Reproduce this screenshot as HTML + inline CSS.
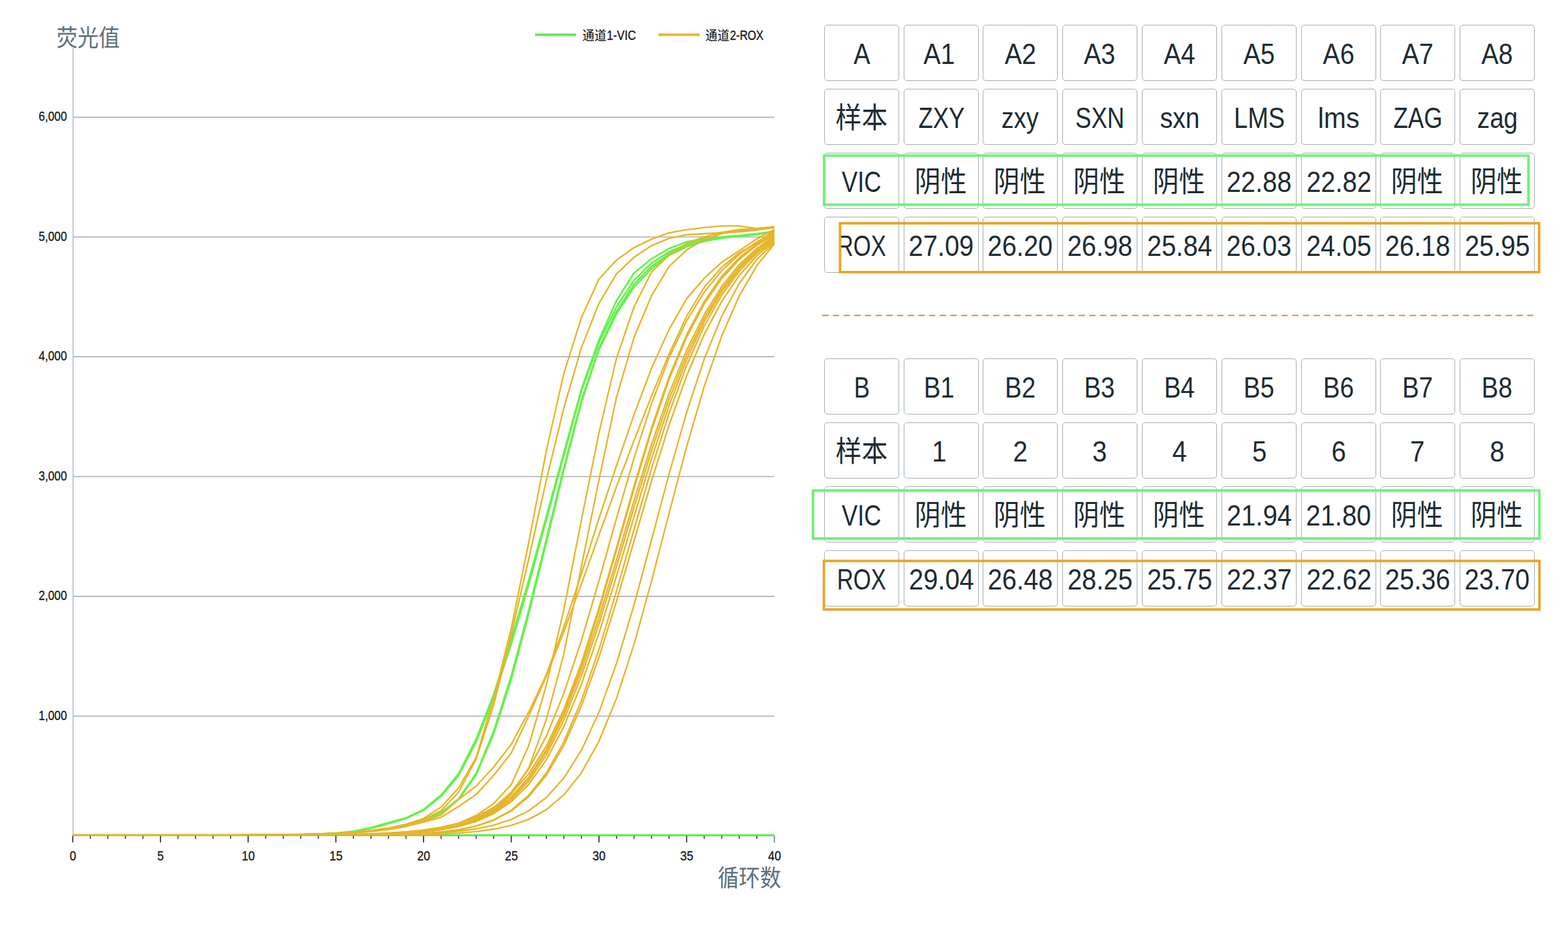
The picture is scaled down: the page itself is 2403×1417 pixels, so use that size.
<!DOCTYPE html>
<html lang="zh"><head><meta charset="utf-8"><title>PCR amplification curves</title>
<style>
html,body{margin:0;padding:0;background:#fff}
body{width:2403px;height:1417px;position:relative;overflow:hidden;font-family:"Liberation Sans",sans-serif}
.c{position:absolute;box-sizing:border-box;width:115px;height:86px;border:1px solid #a3adb3;border-radius:5px;background:#fff;
display:flex;align-items:center;justify-content:center;color:#1d2b32;font-size:44.64px;line-height:1;white-space:nowrap}
.t{display:inline-block;position:relative;top:2.4px}
.bx{position:absolute;box-sizing:content-box}
</style></head>
<body>
<svg id="chart" width="1250" height="1417" viewBox="0 0 1250 1417" style="position:absolute;left:0;top:0" font-family="'Liberation Sans', sans-serif"><line x1="112" y1="73" x2="112" y2="1281" stroke="#8c979c" stroke-width="1"/><line x1="112" y1="1280.5" x2="1186.7" y2="1280.5" stroke="#6b7478" stroke-width="1"/><line x1="112.5" y1="1097.00" x2="1186.7" y2="1097.00" stroke="#7d878a" stroke-width="1"/><text transform="translate(102.60,1102.60) scale(0.8679,1)" font-size="19.95" text-anchor="end" fill="#1a1a1a" stroke="#1a1a1a" stroke-width="0.35">1,000</text><line x1="112.5" y1="913.50" x2="1186.7" y2="913.50" stroke="#7d878a" stroke-width="1"/><text transform="translate(102.60,919.10) scale(0.8679,1)" font-size="19.95" text-anchor="end" fill="#1a1a1a" stroke="#1a1a1a" stroke-width="0.35">2,000</text><line x1="112.5" y1="730.00" x2="1186.7" y2="730.00" stroke="#7d878a" stroke-width="1"/><text transform="translate(102.60,735.60) scale(0.8679,1)" font-size="19.95" text-anchor="end" fill="#1a1a1a" stroke="#1a1a1a" stroke-width="0.35">3,000</text><line x1="112.5" y1="546.50" x2="1186.7" y2="546.50" stroke="#7d878a" stroke-width="1"/><text transform="translate(102.60,552.10) scale(0.8679,1)" font-size="19.95" text-anchor="end" fill="#1a1a1a" stroke="#1a1a1a" stroke-width="0.35">4,000</text><line x1="112.5" y1="363.00" x2="1186.7" y2="363.00" stroke="#7d878a" stroke-width="1"/><text transform="translate(102.60,368.60) scale(0.8679,1)" font-size="19.95" text-anchor="end" fill="#1a1a1a" stroke="#1a1a1a" stroke-width="0.35">5,000</text><line x1="112.5" y1="179.50" x2="1186.7" y2="179.50" stroke="#7d878a" stroke-width="1"/><text transform="translate(102.60,185.10) scale(0.8679,1)" font-size="19.95" text-anchor="end" fill="#1a1a1a" stroke="#1a1a1a" stroke-width="0.35">6,000</text><g fill="none" stroke-linejoin="round" stroke-linecap="butt"><polyline points="111.5,1279.5 138.4,1279.5 165.3,1279.5 192.1,1279.5 219.0,1279.5 245.9,1279.5 272.8,1279.4 299.7,1279.4 326.5,1279.4 353.4,1279.3 380.3,1279.2 407.2,1279.0 434.1,1278.8 460.9,1278.4 487.8,1277.8 514.7,1276.4 541.6,1273.4 568.5,1267.8 595.3,1260.2 622.2,1252.9 649.1,1240.1 676.0,1218.1 702.9,1185.0 729.7,1132.3 756.6,1063.9 783.5,979.3 810.4,888.4 837.3,790.8 864.1,693.7 891.0,596.3 917.9,520.8 944.8,460.4 971.7,418.3 998.5,396.3 1025.4,380.7 1052.3,370.5 1079.2,365.5 1106.1,362.8 1132.9,360.9 1159.8,358.0 1186.7,354.5" stroke="#68f04e" stroke-width="2.7"/><polyline points="111.5,1279.5 138.4,1279.5 165.3,1279.5 192.1,1279.5 219.0,1279.5 245.9,1279.5 272.8,1279.4 299.7,1279.4 326.5,1279.4 353.4,1279.3 380.3,1279.2 407.2,1279.1 434.1,1278.9 460.9,1278.5 487.8,1278.0 514.7,1276.7 541.6,1274.0 568.5,1268.9 595.3,1261.9 622.2,1253.8 649.1,1241.3 676.0,1219.9 702.9,1187.8 729.7,1136.5 756.6,1069.8 783.5,986.3 810.4,895.2 837.3,796.2 864.1,697.8 891.0,599.1 917.9,524.9 944.8,470.0 971.7,429.3 998.5,403.1 1025.4,385.9 1052.3,374.1 1079.2,367.5 1106.1,363.7 1132.9,361.3 1159.8,358.4 1186.7,354.5" stroke="#68f04e" stroke-width="2.7"/><polyline points="111.5,1279.5 138.4,1279.5 165.3,1279.5 192.1,1279.5 219.0,1279.5 245.9,1279.5 272.8,1279.4 299.7,1279.4 326.5,1279.3 353.4,1279.3 380.3,1279.1 407.2,1279.0 434.1,1278.7 460.9,1278.2 487.8,1277.6 514.7,1276.6 541.6,1275.1 568.5,1272.8 595.3,1269.3 622.2,1263.9 649.1,1256.6 676.0,1244.7 702.9,1223.6 729.7,1185.0 756.6,1120.3 783.5,1035.5 810.4,934.3 837.3,825.6 864.1,716.4 891.0,613.2 917.9,533.3 944.8,476.9 971.7,435.2 998.5,407.9 1025.4,388.8 1052.3,376.2 1079.2,368.5 1106.1,364.2 1132.9,361.5 1159.8,358.7 1186.7,355.1" stroke="#68f04e" stroke-width="2.7"/><polyline points="111.5,1279.5 138.4,1279.5 165.3,1279.5 192.1,1279.5 219.0,1279.5 245.9,1279.5 272.8,1279.4 299.7,1279.4 326.5,1279.4 353.4,1279.3 380.3,1279.2 407.2,1279.0 434.1,1278.7 460.9,1278.3 487.8,1277.7 514.7,1276.7 541.6,1275.2 568.5,1273.0 595.3,1269.6 622.2,1264.5 649.1,1257.5 676.0,1245.6 702.9,1224.8 729.7,1186.9 756.6,1123.9 783.5,1040.8 810.4,939.8 837.3,830.8 864.1,720.3 891.0,616.4 917.9,535.8 944.8,480.8 971.7,439.8 998.5,411.6 1025.4,391.0 1052.3,378.0 1079.2,369.6 1106.1,364.6 1132.9,361.8 1159.8,359.1 1186.7,355.1" stroke="#68f04e" stroke-width="2.7"/><polyline points="111.5,1279.5 138.4,1279.5 165.3,1279.5 192.1,1279.5 219.0,1279.5 245.9,1279.5 272.8,1279.5 299.7,1279.5 326.5,1279.5 353.4,1279.5 380.3,1279.5 407.2,1279.5 434.1,1279.5 460.9,1279.5 487.8,1279.4 514.7,1279.4 541.6,1279.3 568.5,1279.2 595.3,1279.0 622.2,1278.7 649.1,1278.2 676.0,1277.4 702.9,1276.1 729.7,1273.9 756.6,1270.3 783.5,1264.4 810.4,1255.1 837.3,1240.4 864.1,1217.7 891.0,1183.9 917.9,1135.5 944.8,1069.9 971.7,987.0 998.5,890.1 1025.4,786.2 1052.3,684.3 1079.2,592.1 1106.1,514.6 1132.9,453.3 1159.8,407.1 1186.7,373.4" stroke="#e6b52c" stroke-width="2.4"/><polyline points="111.5,1279.5 138.4,1279.5 165.3,1279.5 192.1,1279.5 219.0,1279.5 245.9,1279.5 272.8,1279.5 299.7,1279.5 326.5,1279.5 353.4,1279.5 380.3,1279.5 407.2,1279.5 434.1,1279.4 460.9,1279.4 487.8,1279.3 514.7,1279.3 541.6,1279.1 568.5,1278.9 595.3,1278.5 622.2,1278.0 649.1,1277.0 676.0,1275.6 702.9,1273.3 729.7,1269.7 756.6,1264.1 783.5,1255.4 810.4,1242.0 837.3,1221.8 864.1,1191.9 891.0,1149.4 917.9,1091.3 944.8,1016.4 971.7,926.6 998.5,827.1 1025.4,726.0 1052.3,631.6 1079.2,550.1 1106.1,484.4 1132.9,434.2 1159.8,397.5 1186.7,371.6" stroke="#e6b52c" stroke-width="2.4"/><polyline points="111.5,1279.5 138.4,1279.5 165.3,1279.5 192.1,1279.5 219.0,1279.5 245.9,1279.5 272.8,1279.5 299.7,1279.5 326.5,1279.5 353.4,1279.5 380.3,1279.5 407.2,1279.5 434.1,1279.5 460.9,1279.4 487.8,1279.4 514.7,1279.3 541.6,1279.2 568.5,1278.9 595.3,1278.5 622.2,1277.8 649.1,1276.7 676.0,1274.6 702.9,1271.3 729.7,1265.7 756.6,1256.6 783.5,1242.2 810.4,1220.2 837.3,1187.7 864.1,1142.0 891.0,1081.6 917.9,1006.9 944.8,920.8 971.7,828.6 998.5,736.8 1025.4,651.2 1052.3,575.8 1079.2,512.5 1106.1,461.6 1132.9,421.9 1159.8,391.9 1186.7,369.6" stroke="#e6b52c" stroke-width="2.4"/><polyline points="111.5,1279.5 138.4,1279.5 165.3,1279.5 192.1,1279.5 219.0,1279.5 245.9,1279.5 272.8,1279.5 299.7,1279.5 326.5,1279.5 353.4,1279.5 380.3,1279.5 407.2,1279.5 434.1,1279.5 460.9,1279.4 487.8,1279.4 514.7,1279.3 541.6,1279.2 568.5,1278.9 595.3,1278.5 622.2,1277.8 649.1,1276.6 676.0,1274.5 702.9,1271.1 729.7,1265.4 756.6,1256.0 783.5,1241.2 810.4,1218.2 837.3,1184.3 864.1,1136.5 891.0,1073.2 917.9,995.0 944.8,905.5 971.7,810.9 998.5,718.0 1025.4,632.9 1052.3,559.6 1079.2,499.5 1106.1,452.0 1132.9,415.5 1159.8,388.0 1186.7,367.5" stroke="#e6b52c" stroke-width="2.4"/><polyline points="111.5,1279.5 138.4,1279.5 165.3,1279.5 192.1,1279.5 219.0,1279.5 245.9,1279.5 272.8,1279.5 299.7,1279.5 326.5,1279.5 353.4,1279.5 380.3,1279.5 407.2,1279.4 434.1,1279.4 460.9,1279.3 487.8,1279.2 514.7,1279.0 541.6,1278.7 568.5,1278.3 595.3,1277.5 622.2,1276.3 649.1,1274.3 676.0,1271.1 702.9,1266.1 729.7,1258.3 756.6,1246.3 783.5,1228.1 810.4,1201.5 837.3,1163.9 864.1,1113.1 891.0,1048.2 917.9,970.2 944.8,882.7 971.7,791.3 998.5,702.3 1025.4,621.0 1052.3,550.8 1079.2,492.9 1106.1,447.0 1132.9,411.7 1159.8,385.1 1186.7,365.5" stroke="#e6b52c" stroke-width="2.4"/><polyline points="111.5,1279.5 138.4,1279.5 165.3,1279.5 192.1,1279.5 219.0,1279.5 245.9,1279.5 272.8,1279.5 299.7,1279.5 326.5,1279.5 353.4,1279.5 380.3,1279.5 407.2,1279.4 434.1,1279.4 460.9,1279.3 487.8,1279.2 514.7,1279.1 541.6,1278.8 568.5,1278.3 595.3,1277.6 622.2,1276.3 649.1,1274.3 676.0,1271.0 702.9,1265.8 729.7,1257.4 756.6,1244.6 783.5,1225.1 810.4,1196.6 837.3,1156.6 864.1,1103.1 891.0,1035.6 917.9,955.8 944.8,867.9 971.7,777.4 998.5,690.3 1025.4,611.4 1052.3,543.6 1079.2,487.7 1106.1,443.2 1132.9,408.9 1159.8,382.9 1186.7,363.5" stroke="#e6b52c" stroke-width="2.4"/><polyline points="111.5,1279.5 138.4,1279.5 165.3,1279.5 192.1,1279.5 219.0,1279.5 245.9,1279.5 272.8,1279.5 299.7,1279.5 326.5,1279.5 353.4,1279.5 380.3,1279.5 407.2,1279.4 434.1,1279.4 460.9,1279.3 487.8,1279.2 514.7,1279.1 541.6,1278.8 568.5,1278.3 595.3,1277.5 622.2,1276.2 649.1,1274.0 676.0,1270.6 702.9,1265.0 729.7,1256.3 756.6,1242.7 783.5,1222.4 810.4,1192.7 837.3,1151.2 864.1,1096.1 891.0,1027.1 917.9,946.1 944.8,857.5 971.7,767.1 998.5,680.7 1025.4,602.9 1052.3,536.4 1079.2,482.0 1106.1,438.8 1132.9,405.5 1159.8,380.4 1186.7,361.7" stroke="#e6b52c" stroke-width="2.4"/><polyline points="111.5,1279.5 138.4,1279.5 165.3,1279.5 192.1,1279.5 219.0,1279.5 245.9,1279.5 272.8,1279.5 299.7,1279.5 326.5,1279.5 353.4,1279.5 380.3,1279.4 407.2,1279.4 434.1,1279.4 460.9,1279.3 487.8,1279.1 514.7,1278.9 541.6,1278.5 568.5,1278.0 595.3,1277.0 622.2,1275.6 649.1,1273.2 676.0,1269.5 702.9,1263.8 729.7,1254.8 756.6,1241.1 783.5,1220.6 810.4,1190.7 837.3,1148.6 864.1,1092.1 891.0,1020.5 917.9,935.7 944.8,842.7 971.7,748.2 998.5,659.2 1025.4,581.1 1052.3,516.5 1079.2,465.5 1106.1,426.6 1132.9,397.4 1159.8,375.8 1186.7,359.6" stroke="#e6b52c" stroke-width="2.4"/><polyline points="111.5,1279.5 138.4,1279.5 165.3,1279.5 192.1,1279.5 219.0,1279.5 245.9,1279.5 272.8,1279.5 299.7,1279.5 326.5,1279.5 353.4,1279.4 380.3,1279.4 407.2,1279.3 434.1,1279.3 460.9,1279.1 487.8,1278.9 514.7,1278.6 541.6,1278.1 568.5,1277.4 595.3,1276.2 622.2,1274.4 649.1,1271.7 676.0,1267.5 702.9,1261.1 729.7,1251.4 756.6,1236.9 783.5,1215.7 810.4,1185.3 837.3,1143.0 864.1,1086.8 891.0,1015.7 917.9,931.6 944.8,839.0 971.7,744.6 998.5,655.5 1025.4,577.3 1052.3,512.7 1079.2,461.9 1106.1,423.4 1132.9,394.7 1159.8,373.5 1186.7,357.8" stroke="#e6b52c" stroke-width="2.4"/><polyline points="111.5,1279.5 138.4,1279.5 165.3,1279.5 192.1,1279.5 219.0,1279.5 245.9,1279.5 272.8,1279.5 299.7,1279.5 326.5,1279.5 353.4,1279.5 380.3,1279.5 407.2,1279.5 434.1,1279.4 460.9,1279.4 487.8,1279.3 514.7,1279.1 541.6,1278.8 568.5,1278.3 595.3,1277.5 622.2,1276.1 649.1,1273.8 676.0,1270.0 702.9,1263.7 729.7,1253.7 756.6,1237.8 783.5,1213.6 810.4,1177.9 837.3,1127.9 864.1,1062.1 891.0,981.4 917.9,889.8 944.8,794.1 971.7,701.5 998.5,618.3 1025.4,547.9 1052.3,491.3 1079.2,447.6 1106.1,414.5 1132.9,389.5 1159.8,370.5 1186.7,355.8" stroke="#e6b52c" stroke-width="2.4"/><polyline points="111.5,1279.5 138.4,1279.5 165.3,1279.5 192.1,1279.5 219.0,1279.5 245.9,1279.5 272.8,1279.4 299.7,1279.4 326.5,1279.4 353.4,1279.3 380.3,1279.2 407.2,1279.0 434.1,1278.8 460.9,1278.4 487.8,1277.9 514.7,1277.0 541.6,1275.7 568.5,1273.8 595.3,1270.8 622.2,1266.2 649.1,1259.3 676.0,1252.0 702.9,1235.5 729.7,1217.1 756.6,1187.8 783.5,1153.7 810.4,1096.6 837.3,1035.9 864.1,967.6 891.0,894.6 917.9,819.7 944.8,745.5 971.7,674.9 998.5,606.6 1025.4,542.3 1052.3,484.4 1079.2,440.4 1106.1,409.2 1132.9,387.3 1159.8,371.9 1186.7,353.2" stroke="#e6b52c" stroke-width="2.4"/><polyline points="111.5,1279.5 138.4,1279.5 165.3,1279.5 192.1,1279.5 219.0,1279.5 245.9,1279.5 272.8,1279.4 299.7,1279.4 326.5,1279.4 353.4,1279.3 380.3,1279.2 407.2,1279.0 434.1,1278.7 460.9,1278.3 487.8,1277.7 514.7,1276.8 541.6,1275.4 568.5,1273.3 595.3,1270.0 622.2,1265.0 649.1,1257.5 676.0,1248.3 702.9,1224.5 729.7,1204.3 756.6,1175.0 783.5,1140.3 810.4,1090.4 837.3,1033.5 864.1,960.7 891.0,879.1 917.9,794.3 944.8,713.3 971.7,635.2 998.5,564.1 1025.4,504.9 1052.3,457.6 1079.2,426.4 1106.1,401.7 1132.9,383.9 1159.8,366.1 1186.7,351.4" stroke="#e6b52c" stroke-width="2.4"/><polyline points="111.5,1279.5 138.4,1279.5 165.3,1279.5 192.1,1279.5 219.0,1279.5 245.9,1279.5 272.8,1279.5 299.7,1279.5 326.5,1279.5 353.4,1279.4 380.3,1279.4 407.2,1279.4 434.1,1279.3 460.9,1279.2 487.8,1279.0 514.7,1278.7 541.6,1278.3 568.5,1277.7 595.3,1276.8 622.2,1275.3 649.1,1273.2 676.0,1269.9 702.9,1264.8 729.7,1255.7 756.6,1240.6 783.5,1216.6 810.4,1176.1 837.3,1102.2 864.1,1001.8 891.0,867.8 917.9,735.3 944.8,608.7 971.7,517.0 998.5,452.8 1025.4,408.3 1052.3,382.8 1079.2,367.2 1106.1,358.0 1132.9,353.0 1159.8,350.3 1186.7,347.4" stroke="#e6b52c" stroke-width="2.4"/><polyline points="111.5,1279.5 138.4,1279.5 165.3,1279.5 192.1,1279.5 219.0,1279.5 245.9,1279.5 272.8,1279.5 299.7,1279.5 326.5,1279.4 353.4,1279.4 380.3,1279.4 407.2,1279.3 434.1,1279.2 460.9,1279.1 487.8,1278.9 514.7,1278.5 541.6,1278.0 568.5,1277.3 595.3,1276.1 622.2,1274.3 649.1,1271.6 676.0,1267.4 702.9,1261.2 729.7,1249.2 756.6,1230.9 783.5,1201.9 810.4,1142.1 837.3,1049.6 864.1,933.8 891.0,796.7 917.9,663.2 944.8,548.8 971.7,470.0 998.5,416.7 1025.4,391.2 1052.3,372.9 1079.2,363.0 1106.1,356.0 1132.9,351.6 1159.8,350.3 1186.7,348.1" stroke="#e6b52c" stroke-width="2.4"/><polyline points="111.5,1279.5 138.4,1279.5 165.3,1279.5 192.1,1279.5 219.0,1279.5 245.9,1279.5 272.8,1279.4 299.7,1279.4 326.5,1279.3 353.4,1279.3 380.3,1279.1 407.2,1279.0 434.1,1278.7 460.9,1278.2 487.8,1277.6 514.7,1276.6 541.6,1275.1 568.5,1272.7 595.3,1269.2 622.2,1263.8 649.1,1255.7 676.0,1241.9 702.9,1213.5 729.7,1163.0 756.6,1079.9 783.5,972.4 810.4,855.7 837.3,735.2 864.1,625.2 891.0,532.6 917.9,464.9 944.8,419.6 971.7,394.1 998.5,376.3 1025.4,365.2 1052.3,359.5 1079.2,358.0 1106.1,356.5 1132.9,355.2 1159.8,352.3 1186.7,348.8" stroke="#e6b52c" stroke-width="2.4"/><polyline points="111.5,1279.5 138.4,1279.5 165.3,1279.5 192.1,1279.5 219.0,1279.5 245.9,1279.5 272.8,1279.4 299.7,1279.4 326.5,1279.3 353.4,1279.2 380.3,1279.1 407.2,1278.9 434.1,1278.6 460.9,1278.1 487.8,1277.4 514.7,1276.4 541.6,1274.7 568.5,1272.2 595.3,1268.4 622.2,1262.6 649.1,1253.8 676.0,1236.4 702.9,1207.0 729.7,1160.3 756.6,1070.3 783.5,962.8 810.4,830.4 837.3,690.6 864.1,572.0 891.0,486.7 917.9,427.5 944.8,398.4 971.7,379.3 998.5,366.4 1025.4,356.7 1052.3,351.9 1079.2,348.6 1106.1,346.1 1132.9,346.1 1159.8,350.3 1186.7,347.4" stroke="#e6b52c" stroke-width="2.4"/></g><line x1="111.5" y1="1279.2" x2="1186.7" y2="1279.2" stroke="#68f04e" stroke-width="3"/><line x1="111.5" y1="1279.2" x2="676.0" y2="1279.2" stroke="#e6b52c" stroke-width="3"/><line x1="111.5" y1="1280.5" x2="111.5" y2="1290.5" stroke="#222" stroke-width="1.6"/><text transform="translate(111.70,1318.00) scale(0.9153,1)" font-size="19.64" text-anchor="middle" fill="#1a1a1a" stroke="#1a1a1a" stroke-width="0.35">0</text><line x1="138.4" y1="1280.5" x2="138.4" y2="1285.0" stroke="#222" stroke-width="1.4"/><line x1="165.3" y1="1280.5" x2="165.3" y2="1285.0" stroke="#222" stroke-width="1.4"/><line x1="192.1" y1="1280.5" x2="192.1" y2="1285.0" stroke="#222" stroke-width="1.4"/><line x1="219.0" y1="1280.5" x2="219.0" y2="1285.0" stroke="#222" stroke-width="1.4"/><line x1="245.9" y1="1280.5" x2="245.9" y2="1290.5" stroke="#222" stroke-width="1.6"/><text transform="translate(246.10,1318.00) scale(0.9153,1)" font-size="19.64" text-anchor="middle" fill="#1a1a1a" stroke="#1a1a1a" stroke-width="0.35">5</text><line x1="272.8" y1="1280.5" x2="272.8" y2="1285.0" stroke="#222" stroke-width="1.4"/><line x1="299.7" y1="1280.5" x2="299.7" y2="1285.0" stroke="#222" stroke-width="1.4"/><line x1="326.5" y1="1280.5" x2="326.5" y2="1285.0" stroke="#222" stroke-width="1.4"/><line x1="353.4" y1="1280.5" x2="353.4" y2="1285.0" stroke="#222" stroke-width="1.4"/><line x1="380.3" y1="1280.5" x2="380.3" y2="1290.5" stroke="#222" stroke-width="1.6"/><text transform="translate(380.50,1318.00) scale(0.9153,1)" font-size="19.64" text-anchor="middle" fill="#1a1a1a" stroke="#1a1a1a" stroke-width="0.35">10</text><line x1="407.2" y1="1280.5" x2="407.2" y2="1285.0" stroke="#222" stroke-width="1.4"/><line x1="434.1" y1="1280.5" x2="434.1" y2="1285.0" stroke="#222" stroke-width="1.4"/><line x1="460.9" y1="1280.5" x2="460.9" y2="1285.0" stroke="#222" stroke-width="1.4"/><line x1="487.8" y1="1280.5" x2="487.8" y2="1285.0" stroke="#222" stroke-width="1.4"/><line x1="514.7" y1="1280.5" x2="514.7" y2="1290.5" stroke="#222" stroke-width="1.6"/><text transform="translate(514.90,1318.00) scale(0.9153,1)" font-size="19.64" text-anchor="middle" fill="#1a1a1a" stroke="#1a1a1a" stroke-width="0.35">15</text><line x1="541.6" y1="1280.5" x2="541.6" y2="1285.0" stroke="#222" stroke-width="1.4"/><line x1="568.5" y1="1280.5" x2="568.5" y2="1285.0" stroke="#222" stroke-width="1.4"/><line x1="595.3" y1="1280.5" x2="595.3" y2="1285.0" stroke="#222" stroke-width="1.4"/><line x1="622.2" y1="1280.5" x2="622.2" y2="1285.0" stroke="#222" stroke-width="1.4"/><line x1="649.1" y1="1280.5" x2="649.1" y2="1290.5" stroke="#222" stroke-width="1.6"/><text transform="translate(649.30,1318.00) scale(0.9153,1)" font-size="19.64" text-anchor="middle" fill="#1a1a1a" stroke="#1a1a1a" stroke-width="0.35">20</text><line x1="676.0" y1="1280.5" x2="676.0" y2="1285.0" stroke="#222" stroke-width="1.4"/><line x1="702.9" y1="1280.5" x2="702.9" y2="1285.0" stroke="#222" stroke-width="1.4"/><line x1="729.7" y1="1280.5" x2="729.7" y2="1285.0" stroke="#222" stroke-width="1.4"/><line x1="756.6" y1="1280.5" x2="756.6" y2="1285.0" stroke="#222" stroke-width="1.4"/><line x1="783.5" y1="1280.5" x2="783.5" y2="1290.5" stroke="#222" stroke-width="1.6"/><text transform="translate(783.70,1318.00) scale(0.9153,1)" font-size="19.64" text-anchor="middle" fill="#1a1a1a" stroke="#1a1a1a" stroke-width="0.35">25</text><line x1="810.4" y1="1280.5" x2="810.4" y2="1285.0" stroke="#222" stroke-width="1.4"/><line x1="837.3" y1="1280.5" x2="837.3" y2="1285.0" stroke="#222" stroke-width="1.4"/><line x1="864.1" y1="1280.5" x2="864.1" y2="1285.0" stroke="#222" stroke-width="1.4"/><line x1="891.0" y1="1280.5" x2="891.0" y2="1285.0" stroke="#222" stroke-width="1.4"/><line x1="917.9" y1="1280.5" x2="917.9" y2="1290.5" stroke="#222" stroke-width="1.6"/><text transform="translate(918.10,1318.00) scale(0.9153,1)" font-size="19.64" text-anchor="middle" fill="#1a1a1a" stroke="#1a1a1a" stroke-width="0.35">30</text><line x1="944.8" y1="1280.5" x2="944.8" y2="1285.0" stroke="#222" stroke-width="1.4"/><line x1="971.7" y1="1280.5" x2="971.7" y2="1285.0" stroke="#222" stroke-width="1.4"/><line x1="998.5" y1="1280.5" x2="998.5" y2="1285.0" stroke="#222" stroke-width="1.4"/><line x1="1025.4" y1="1280.5" x2="1025.4" y2="1285.0" stroke="#222" stroke-width="1.4"/><line x1="1052.3" y1="1280.5" x2="1052.3" y2="1290.5" stroke="#222" stroke-width="1.6"/><text transform="translate(1052.50,1318.00) scale(0.9153,1)" font-size="19.64" text-anchor="middle" fill="#1a1a1a" stroke="#1a1a1a" stroke-width="0.35">35</text><line x1="1079.2" y1="1280.5" x2="1079.2" y2="1285.0" stroke="#222" stroke-width="1.4"/><line x1="1106.1" y1="1280.5" x2="1106.1" y2="1285.0" stroke="#222" stroke-width="1.4"/><line x1="1132.9" y1="1280.5" x2="1132.9" y2="1285.0" stroke="#222" stroke-width="1.4"/><line x1="1159.8" y1="1280.5" x2="1159.8" y2="1285.0" stroke="#222" stroke-width="1.4"/><line x1="1186.7" y1="1280.5" x2="1186.7" y2="1290.5" stroke="#6d7880" stroke-width="1.6"/><text transform="translate(1186.90,1318.00) scale(0.9153,1)" font-size="19.64" text-anchor="middle" fill="#1a1a1a" stroke="#1a1a1a" stroke-width="0.35">40</text><text transform="translate(86.44,70.54) scale(0.9,1)" font-size="36" fill="#5d6f79" font-family="'Liberation Sans', 'Noto Sans CJK SC', sans-serif">荧光值</text><text transform="translate(1099.90,1358.18) scale(0.9,1)" font-size="36" fill="#5d6f79" font-family="'Liberation Sans', 'Noto Sans CJK SC', sans-serif">循环数</text><line x1="820" y1="53.3" x2="882.7" y2="53.3" stroke="#68e65a" stroke-width="4"/><line x1="1009" y1="53.3" x2="1072.2" y2="53.3" stroke="#e8b832" stroke-width="4"/><text transform="translate(892.48,61.83) scale(0.9,1)" font-size="20.5" fill="#111" font-family="'Liberation Sans', 'Noto Sans CJK SC', sans-serif">通道</text><text transform="translate(930.10,60.50) scale(0.8823,1)" font-size="19.74" text-anchor="start" fill="#111" stroke="#111" stroke-width="0.3">1-VIC</text><text transform="translate(1081.08,61.83) scale(0.9,1)" font-size="20.5" fill="#111" font-family="'Liberation Sans', 'Noto Sans CJK SC', sans-serif">通道</text><text transform="translate(1118.70,60.50) scale(0.8523,1)" font-size="19.74" text-anchor="start" fill="#111" stroke="#111" stroke-width="0.3">2-ROX</text></svg>
<div id="table">
<div class="c" style="left:1263.00px;top:38.00px"><span class="t" style="transform:translateX(0.03px) scaleX(0.8518)">A</span></div><div class="c" style="left:1385.00px;top:38.00px"><span class="t" style="transform:translateX(-2.89px) scaleX(0.8837)">A1</span></div><div class="c" style="left:1506.00px;top:38.00px"><span class="t" style="transform:translateX(0.50px) scaleX(0.8837)">A2</span></div><div class="c" style="left:1628.00px;top:38.00px"><span class="t" style="transform:translateX(-0.18px) scaleX(0.8837)">A3</span></div><div class="c" style="left:1750.00px;top:38.00px"><span class="t" style="transform:translateX(0.37px) scaleX(0.8837)">A4</span></div><div class="c" style="left:1872.00px;top:38.00px"><span class="t" style="transform:translateX(0.29px) scaleX(0.8837)">A5</span></div><div class="c" style="left:1994.00px;top:38.00px"><span class="t" style="transform:translateX(0.16px) scaleX(0.8837)">A6</span></div><div class="c" style="left:2115.00px;top:38.00px"><span class="t" style="transform:translateX(0.37px) scaleX(0.8837)">A7</span></div><div class="c" style="left:2237.00px;top:38.00px"><span class="t" style="transform:translateX(0.00px) scaleX(0.8837)">A8</span></div><div class="c" style="left:1263.00px;top:136.00px"></div><div class="c" style="left:1385.00px;top:136.00px"><span class="t" style="transform:translateX(0.48px) scaleX(0.8180)">ZXY</span></div><div class="c" style="left:1506.00px;top:136.00px"><span class="t" style="transform:translateX(-0.13px) scaleX(0.8508)">zxy</span></div><div class="c" style="left:1628.00px;top:136.00px"><span class="t" style="transform:translateX(-0.20px) scaleX(0.8192)">SXN</span></div><div class="c" style="left:1750.00px;top:136.00px"><span class="t" style="transform:translateX(0.31px) scaleX(0.8755)">sxn</span></div><div class="c" style="left:1872.00px;top:136.00px"><span class="t" style="transform:translateX(0.19px) scaleX(0.8494)">LMS</span></div><div class="c" style="left:1994.00px;top:136.00px"><span class="t" style="transform:translateX(-0.12px) scaleX(0.9163)">lms</span></div><div class="c" style="left:2115.00px;top:136.00px"><span class="t" style="transform:translateX(0.19px) scaleX(0.8188)">ZAG</span></div><div class="c" style="left:2237.00px;top:136.00px"><span class="t" style="transform:translateX(-0.02px) scaleX(0.8651)">zag</span></div><div class="c" style="left:1263.00px;top:234.00px"><span class="t" style="transform:translateX(0.01px) scaleX(0.8148)">VIC</span></div><div class="c" style="left:1385.00px;top:234.00px"></div><div class="c" style="left:1506.00px;top:234.00px"></div><div class="c" style="left:1628.00px;top:234.00px"></div><div class="c" style="left:1750.00px;top:234.00px"></div><div class="c" style="left:1872.00px;top:234.00px"><span class="t" style="transform:translateX(-0.32px) scaleX(0.8933)">22.88</span></div><div class="c" style="left:1994.00px;top:234.00px"><span class="t" style="transform:translateX(0.17px) scaleX(0.8933)">22.82</span></div><div class="c" style="left:2115.00px;top:234.00px"></div><div class="c" style="left:2237.00px;top:234.00px"></div><div class="c" style="left:1263.00px;top:332.00px"><span class="t" style="transform:translateX(0.03px) scaleX(0.7761)">ROX</span></div><div class="c" style="left:1385.00px;top:332.00px"><span class="t" style="transform:translateX(-0.46px) scaleX(0.8933)">27.09</span></div><div class="c" style="left:1506.00px;top:332.00px"><span class="t" style="transform:translateX(-0.44px) scaleX(0.8933)">26.20</span></div><div class="c" style="left:1628.00px;top:332.00px"><span class="t" style="transform:translateX(-0.32px) scaleX(0.8933)">26.98</span></div><div class="c" style="left:1750.00px;top:332.00px"><span class="t" style="transform:translateX(0.05px) scaleX(0.8933)">25.84</span></div><div class="c" style="left:1872.00px;top:332.00px"><span class="t" style="transform:translateX(-0.50px) scaleX(0.8933)">26.03</span></div><div class="c" style="left:1994.00px;top:332.00px"><span class="t" style="transform:translateX(-0.04px) scaleX(0.8933)">24.05</span></div><div class="c" style="left:2115.00px;top:332.00px"><span class="t" style="transform:translateX(-0.32px) scaleX(0.8933)">26.18</span></div><div class="c" style="left:2237.00px;top:332.00px"><span class="t" style="transform:translateX(-0.04px) scaleX(0.8933)">25.95</span></div><div class="c" style="left:1263.00px;top:549.00px"><span class="t" style="transform:translateX(-0.03px) scaleX(0.8135)">B</span></div><div class="c" style="left:1385.00px;top:549.00px"><span class="t" style="transform:translateX(-3.09px) scaleX(0.8623)">B1</span></div><div class="c" style="left:1506.00px;top:549.00px"><span class="t" style="transform:translateX(0.29px) scaleX(0.8623)">B2</span></div><div class="c" style="left:1628.00px;top:549.00px"><span class="t" style="transform:translateX(-0.38px) scaleX(0.8623)">B3</span></div><div class="c" style="left:1750.00px;top:549.00px"><span class="t" style="transform:translateX(0.18px) scaleX(0.8623)">B4</span></div><div class="c" style="left:1872.00px;top:549.00px"><span class="t" style="transform:translateX(0.08px) scaleX(0.8623)">B5</span></div><div class="c" style="left:1994.00px;top:549.00px"><span class="t" style="transform:translateX(-0.04px) scaleX(0.8623)">B6</span></div><div class="c" style="left:2115.00px;top:549.00px"><span class="t" style="transform:translateX(0.17px) scaleX(0.8623)">B7</span></div><div class="c" style="left:2237.00px;top:549.00px"><span class="t" style="transform:translateX(-0.20px) scaleX(0.8623)">B8</span></div><div class="c" style="left:1263.00px;top:647.00px"></div><div class="c" style="left:1385.00px;top:647.00px"><span class="t" style="transform:translateX(-2.98px) scaleX(0.8994)">1</span></div><div class="c" style="left:1506.00px;top:647.00px"><span class="t" style="transform:translateX(0.17px) scaleX(0.8994)">2</span></div><div class="c" style="left:1628.00px;top:647.00px"><span class="t" style="transform:translateX(-0.25px) scaleX(0.8994)">3</span></div><div class="c" style="left:1750.00px;top:647.00px"><span class="t" style="transform:translateX(0.20px) scaleX(0.8994)">4</span></div><div class="c" style="left:1872.00px;top:647.00px"><span class="t" style="transform:translateX(0.75px) scaleX(0.8994)">5</span></div><div class="c" style="left:1994.00px;top:647.00px"><span class="t" style="transform:translateX(0.20px) scaleX(0.8994)">6</span></div><div class="c" style="left:2115.00px;top:647.00px"><span class="t" style="transform:translateX(-0.13px) scaleX(0.8994)">7</span></div><div class="c" style="left:2237.00px;top:647.00px"><span class="t" style="transform:translateX(-0.01px) scaleX(0.8994)">8</span></div><div class="c" style="left:1263.00px;top:745.00px"><span class="t" style="transform:translateX(0.01px) scaleX(0.8148)">VIC</span></div><div class="c" style="left:1385.00px;top:745.00px"></div><div class="c" style="left:1506.00px;top:745.00px"></div><div class="c" style="left:1628.00px;top:745.00px"></div><div class="c" style="left:1750.00px;top:745.00px"></div><div class="c" style="left:1872.00px;top:745.00px"><span class="t" style="transform:translateX(0.05px) scaleX(0.8933)">21.94</span></div><div class="c" style="left:1994.00px;top:745.00px"><span class="t" style="transform:translateX(-0.44px) scaleX(0.8933)">21.80</span></div><div class="c" style="left:2115.00px;top:745.00px"></div><div class="c" style="left:2237.00px;top:745.00px"></div><div class="c" style="left:1263.00px;top:843.00px"><span class="t" style="transform:translateX(0.03px) scaleX(0.7761)">ROX</span></div><div class="c" style="left:1385.00px;top:843.00px"><span class="t" style="transform:translateX(0.05px) scaleX(0.8933)">29.04</span></div><div class="c" style="left:1506.00px;top:843.00px"><span class="t" style="transform:translateX(-0.32px) scaleX(0.8933)">26.48</span></div><div class="c" style="left:1628.00px;top:843.00px"><span class="t" style="transform:translateX(-0.04px) scaleX(0.8933)">28.25</span></div><div class="c" style="left:1750.00px;top:843.00px"><span class="t" style="transform:translateX(-0.04px) scaleX(0.8933)">25.75</span></div><div class="c" style="left:1872.00px;top:843.00px"><span class="t" style="transform:translateX(0.05px) scaleX(0.8933)">22.37</span></div><div class="c" style="left:1994.00px;top:843.00px"><span class="t" style="transform:translateX(0.17px) scaleX(0.8933)">22.62</span></div><div class="c" style="left:2115.00px;top:843.00px"><span class="t" style="transform:translateX(-0.17px) scaleX(0.8933)">25.36</span></div><div class="c" style="left:2237.00px;top:843.00px"><span class="t" style="transform:translateX(-0.44px) scaleX(0.8933)">23.70</span></div>
<svg id="cjk" width="2403" height="1417" viewBox="0 0 2403 1417" style="position:absolute;left:0;top:0;pointer-events:none" font-family="'Liberation Sans', 'Noto Sans CJK SC', sans-serif" font-size="44.3" fill="#1d2b32"><text transform="translate(1280.61,196.20) scale(0.9,1)">样本</text><text transform="translate(1401.87,293.98) scale(0.9,1)">阴性</text><text transform="translate(1522.87,293.98) scale(0.9,1)">阴性</text><text transform="translate(1644.87,293.98) scale(0.9,1)">阴性</text><text transform="translate(1766.87,293.98) scale(0.9,1)">阴性</text><text transform="translate(2131.87,293.98) scale(0.9,1)">阴性</text><text transform="translate(2253.87,293.98) scale(0.9,1)">阴性</text><text transform="translate(1280.61,707.20) scale(0.9,1)">样本</text><text transform="translate(1401.87,804.98) scale(0.9,1)">阴性</text><text transform="translate(1522.87,804.98) scale(0.9,1)">阴性</text><text transform="translate(1644.87,804.98) scale(0.9,1)">阴性</text><text transform="translate(1766.87,804.98) scale(0.9,1)">阴性</text><text transform="translate(2131.87,804.98) scale(0.9,1)">阴性</text><text transform="translate(2253.87,804.98) scale(0.9,1)">阴性</text></svg>
<div style="position:absolute;left:1266px;top:350px;width:21px;height:50px;background:#fff"></div><svg style="position:absolute;left:1255px;top:476px" width="1110" height="16"><line x1="5.0" y1="7.3" x2="1094.6" y2="7.3" stroke="#ee8434" stroke-width="2.1" stroke-dasharray="9.8 6.57"/></svg>
<svg id="boxes" width="2403" height="1417" viewBox="0 0 2403 1417" style="position:absolute;left:0;top:0;pointer-events:none"><rect x="1262.95" y="238.35" width="1079.40" height="75.20" fill="none" stroke="#70f07a" stroke-width="3.9"/><rect x="1287.30" y="342.00" width="1071.40" height="74.90" fill="none" stroke="#e8a623" stroke-width="3.8"/><rect x="1245.95" y="751.45" width="1113.20" height="73.50" fill="none" stroke="#70f07a" stroke-width="3.9"/><rect x="1262.70" y="859.30" width="1096.50" height="74.40" fill="none" stroke="#e8a623" stroke-width="3.8"/></svg>
</div>
</body></html>
